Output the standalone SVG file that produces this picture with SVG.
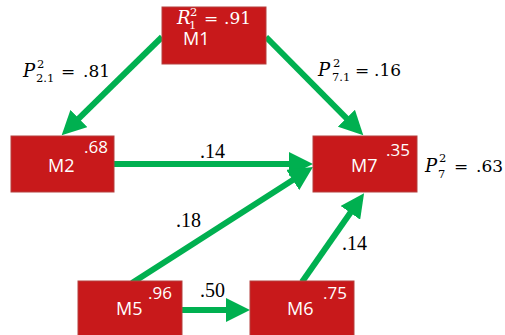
<svg xmlns="http://www.w3.org/2000/svg" width="505" height="335" viewBox="0 0 505 335">
  <style>
    .box { fill: #C8191B; stroke: #B5403E; stroke-width: 1; }
    .name { font-family: "Open Sans", "Liberation Sans", sans-serif; font-size: 18px; fill: #FFFFFF; }
    .r2 { font-family: "Open Sans", "Liberation Sans", sans-serif; font-size: 17px; fill: #FFFFFF; }
    .edge { stroke: #00B050; stroke-width: 6; fill: none; marker-end: url(#head); }
    .coef { font-family: "Liberation Serif", "Times New Roman", serif; font-size: 20px; fill: #000000; }
    .math { font-family: "DejaVu Serif", "Liberation Serif", serif; font-size: 17px; fill: #000000; }
    .mi { font-style: italic; font-size: 18px; }
    .sm { font-family: "DejaVu Serif", "Liberation Serif", serif; font-size: 11.5px; fill: #000000; }
    .white { fill: #FFFFFF; }
  </style>
  <defs>
    <marker id="head" markerUnits="userSpaceOnUse" markerWidth="25" markerHeight="24" refX="1" refY="12" orient="auto">
      <path d="M0,0 L24,12 L0,24 z" fill="#00B050"/>
    </marker>
  </defs>

  <rect width="505" height="335" fill="#FFFFFF"/>

  <!-- connectors -->
  <g id="connectors">
    <line class="edge" x1="162" y1="37" x2="78.1" y2="119.2"/>
    <line class="edge" x1="266" y1="37" x2="347.1" y2="118.9"/>
    <line class="edge" x1="114" y1="164" x2="290" y2="164"/>
    <line class="edge" x1="132" y1="283" x2="293.6" y2="179.5"/>
    <line class="edge" x1="302" y1="282" x2="350.9" y2="212"/>
    <line class="edge" x1="182" y1="310" x2="227" y2="310"/>
  </g>

  <!-- path coefficients -->
  <g id="edge-labels">
    <text class="coef" x="200" y="158">.14</text>
    <text class="coef" x="176" y="227">.18</text>
    <text class="coef" x="342" y="250">.14</text>
    <text class="coef" x="200" y="297">.50</text>

    <text class="math mi" x="23" y="77">P</text>
    <text class="sm" x="37" y="68">2</text>
    <text class="sm" x="36" y="82">2.1</text>
    <text class="math" x="61" y="77">=</text>
    <text class="math" x="83" y="77">.81</text>

    <text class="math mi" x="318" y="76">P</text>
    <text class="sm" x="333" y="67">2</text>
    <text class="sm" x="332" y="81">7.1</text>
    <text class="math" x="355" y="76">=</text>
    <text class="math" x="374" y="76">.16</text>

    <text class="math mi" x="425" y="172">P</text>
    <text class="sm" x="439" y="162">2</text>
    <text class="sm" x="438" y="178">7</text>
    <text class="math" x="454" y="172">=</text>
    <text class="math" x="476" y="172">.63</text>
  </g>

  <!-- nodes -->
  <g id="M1">
    <rect class="box" x="162" y="7" width="104" height="57"/>
    <text class="math mi white" x="177" y="24">R</text>
    <text class="sm white" x="190" y="16">2</text>
    <text class="sm white" x="189" y="29">1</text>
    <text class="math white" x="204" y="24">=</text>
    <text class="math white" x="224" y="24">.91</text>
    <text class="name" x="183" y="45">M1</text>
  </g>
  <g id="M2">
    <rect class="box" x="11" y="136" width="103" height="56"/>
    <text class="name" x="48" y="172">M2</text>
    <text class="r2" x="84" y="153">.68</text>
  </g>
  <g id="M7">
    <rect class="box" x="313" y="136" width="104" height="56"/>
    <text class="name" x="351" y="172">M7</text>
    <text class="r2" x="386" y="156">.35</text>
  </g>
  <g id="M5">
    <rect class="box" x="78" y="281" width="104" height="56"/>
    <text class="name" x="116" y="315">M5</text>
    <text class="r2" x="148" y="299">.96</text>
  </g>
  <g id="M6">
    <rect class="box" x="250" y="281" width="104" height="56"/>
    <text class="name" x="287" y="315">M6</text>
    <text class="r2" x="323" y="299">.75</text>
  </g>
</svg>
